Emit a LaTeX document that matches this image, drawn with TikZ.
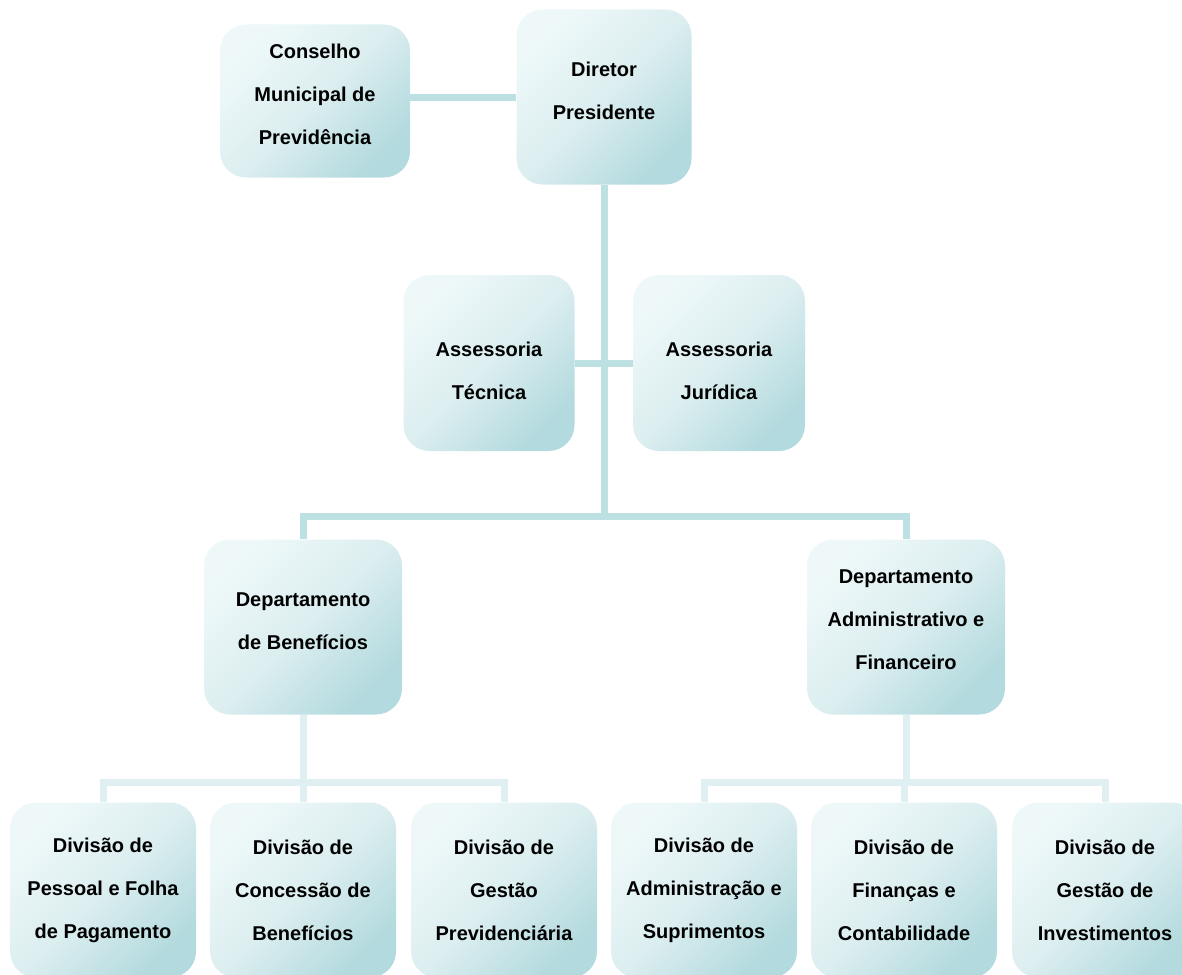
\documentclass[tikz,border=0pt]{standalone}
\usepackage{fontspec}
\setmainfont{Liberation Sans}
\definecolor{boxlight}{HTML}{EEF8F9}
\definecolor{boxmid}{HTML}{DCEEF0}
\definecolor{boxdark}{HTML}{B3DADE}
\definecolor{linedark}{HTML}{BDE0E3}
\definecolor{linelight}{HTML}{E0F0F2}
% struts to move the text of a box down (padtop) or up (padbot)
\newcommand{\padtop}[1]{\rule{0pt}{#1}}
\newcommand{\padbot}[1]{\rule[-#1]{0pt}{#1}}

\begin{document}
\begin{tikzpicture}[x=1pt,y=-1pt,
    unit/.style={rounded corners=26pt,shade,
        top color=boxlight,bottom color=boxdark,middle color=boxmid,
        shading angle=45,
        align=center,inner sep=0pt,
        font=\fontsize{20}{43}\selectfont\bfseries},
    division/.style={unit,minimum width=186pt,minimum height=175pt},
    mainline/.style={line width=7pt,color=linedark},
    subline/.style={line width=7pt,color=linelight}]
    \useasboundingbox (0,0) rectangle (1182,974);
    \clip (0,0) rectangle (1182,974);

    % top
    \node[unit,minimum width=190pt,minimum height=153pt] (conselho) at (315,101)
        {Conselho\\Municipal de\\Previdência\padbot{13pt}};
    \node[unit,minimum width=175pt,minimum height=175pt] (diretor) at (604,97)
        {Diretor\\Presidente\padbot{12pt}};

    % assessorias
    \node[unit,minimum width=171pt,minimum height=176pt] (tecnica) at (489,363)
        {\padtop{31pt}Assessoria\\Técnica};
    \node[unit,minimum width=172pt,minimum height=176pt] (juridica) at (719,363)
        {\padtop{31pt}Assessoria\\Jurídica};

    % departamentos
    \node[unit,minimum width=198pt,minimum height=175pt] (depben) at (303,627)
        {Departamento\\de Benefícios\padbot{12pt}};
    \node[unit,minimum width=198pt,minimum height=175pt] (depadm) at (906,627)
        {Departamento\\Administrativo e\\Financeiro\padbot{14pt}};

    % divisoes
    \node[division] (divpes) at (103,890) {Divisão de\\Pessoal e Folha\\de Pagamento};
    \node[division] (divcon) at (303,890) {Divisão de\\Concessão de\\Benefícios};
    \node[division] (divprev) at (504,890) {Divisão de\\Gestão\\Previdenciária};
    \node[division] (divsup) at (704,890) {Divisão de\\Administração e\\Suprimentos};
    \node[division] (divfin) at (904,890) {Divisão de\\Finanças e\\Contabilidade};
    \node[division] (divinv) at (1105,890) {Divisão de\\Gestão de\\Investimentos};

    % ligacoes
    \coordinate (topbus) at (604,516);
    \coordinate (benbus) at (303,782);
    \coordinate (admbus) at (906,782);

    \draw[mainline] (diretor.west) -- (diretor.west -| conselho.east);
    \draw[mainline] (diretor.south) -- (topbus);
    \draw[mainline] (tecnica.east) -- (juridica.west);
    \draw[mainline] (depben.north) |- (topbus) -| (depadm.north);

    \draw[subline] (depben.south) -- (benbus);
    \draw[subline] (divpes.north) |- (benbus) -| (divprev.north);
    \draw[subline] (divcon.north) -- (divcon.north |- benbus);

    \draw[subline] (depadm.south) -- (admbus);
    \draw[subline] (divsup.north) |- (admbus) -| (divinv.north);
    \draw[subline] (divfin.north) -- (divfin.north |- admbus);
\end{tikzpicture}
\end{document}
